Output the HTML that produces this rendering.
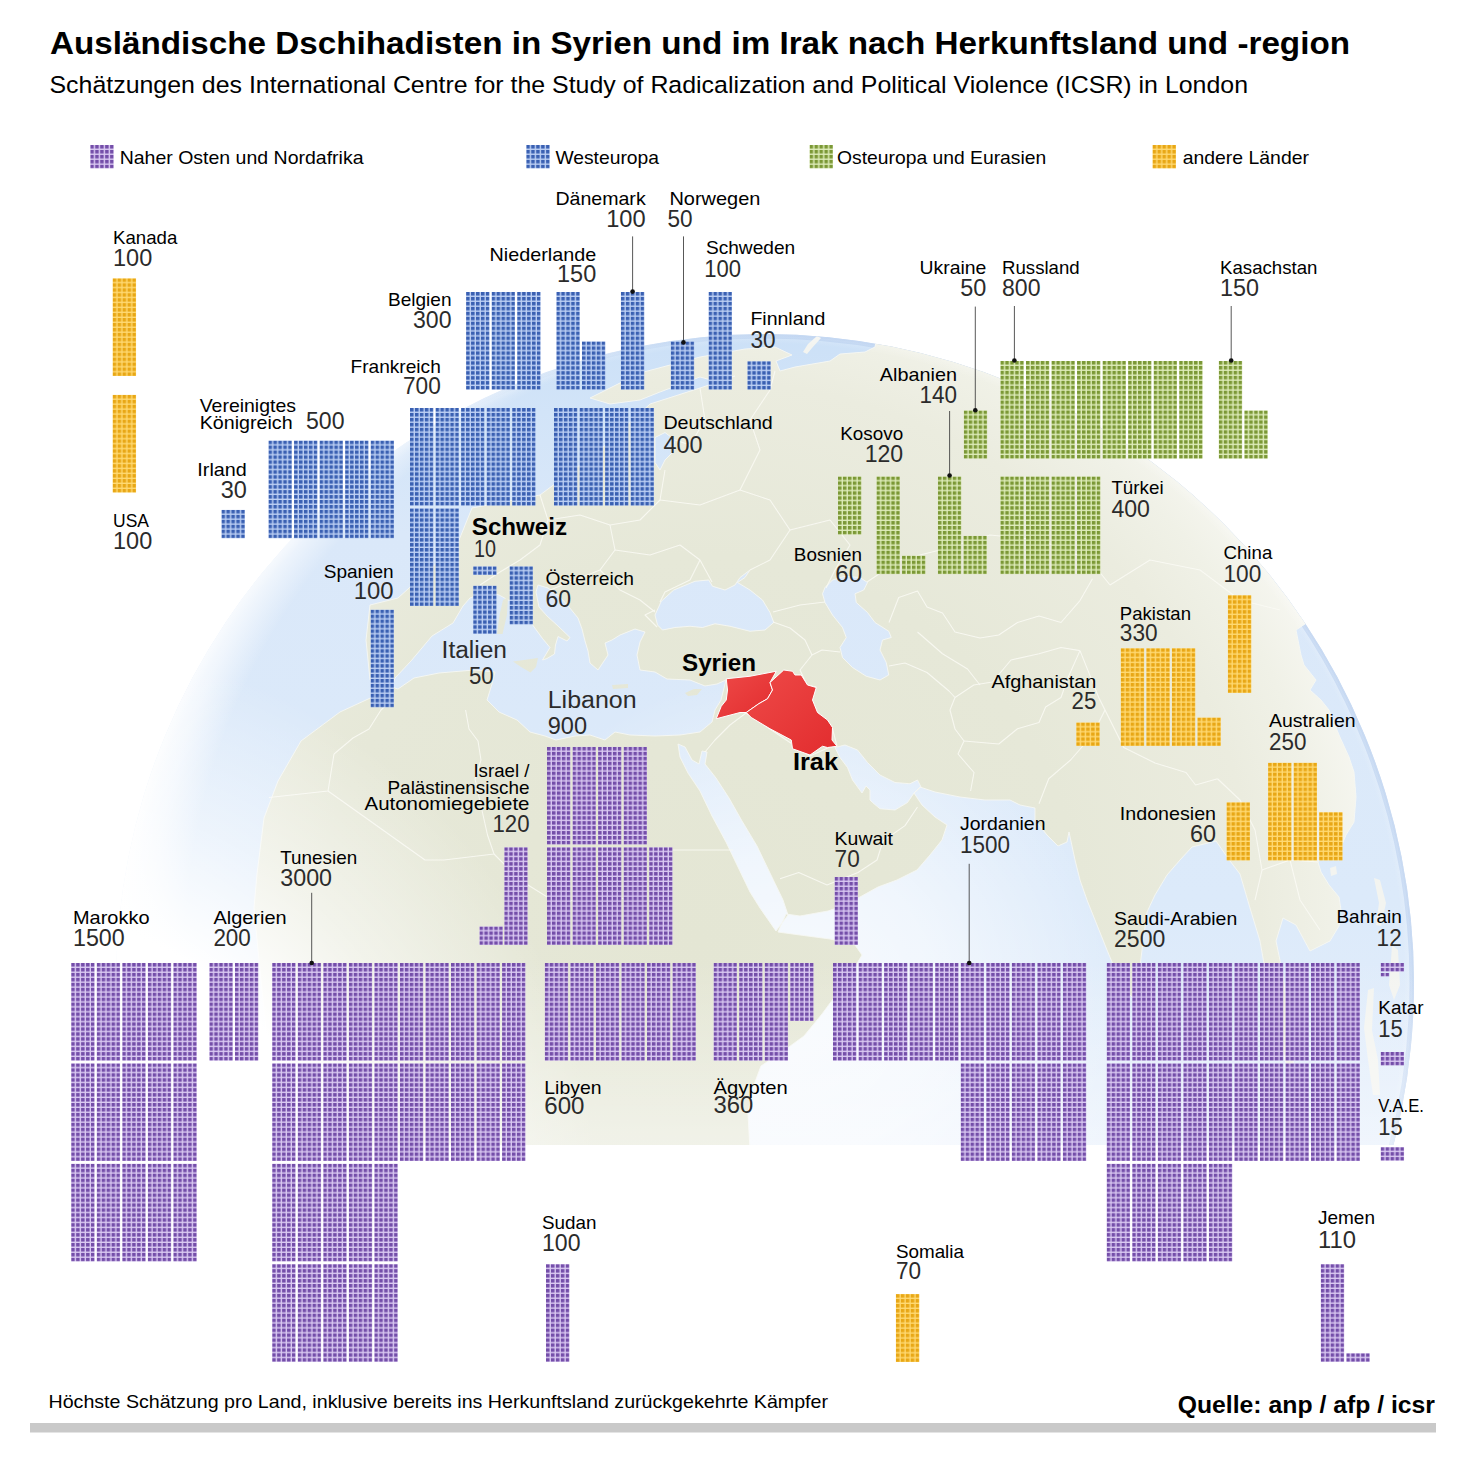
<!DOCTYPE html>
<html lang="de"><head><meta charset="utf-8"><title>Ausländische Dschihadisten in Syrien und im Irak</title>
<style>
html,body{margin:0;padding:0;background:#fff}
svg{display:block}
text{font-family:"Liberation Sans",sans-serif;fill:#000}
.n{font-size:19px}
.v{font-size:23.5px;fill:#2b2b2b}
.b{font-weight:bold}
.t{font-size:32px;fill:#000}
.s{font-size:24.5px}
.bb{font-size:24px;fill:#000}
.big{font-size:23px;fill:#2b2b2b}
.f{font-size:18.5px}
.q{font-size:23px;fill:#000}
</style></head><body>
<svg width="1472" height="1465" viewBox="0 0 1472 1465">
<defs>
<pattern id="cp" patternUnits="userSpaceOnUse" width="4.95" height="4.95"><rect width="3.55" height="3.55" fill="#744ea9"/></pattern>
<pattern id="cb" patternUnits="userSpaceOnUse" width="4.95" height="4.95"><rect width="3.55" height="3.55" fill="#3a60b2"/></pattern>
<pattern id="cg" patternUnits="userSpaceOnUse" width="4.95" height="4.95"><rect width="3.55" height="3.55" fill="#7b9836"/></pattern>
<pattern id="co" patternUnits="userSpaceOnUse" width="4.95" height="4.95"><rect width="3.55" height="3.55" fill="#e8a716"/></pattern>
<clipPath id="gclip"><circle cx="765" cy="983" r="649"/></clipPath>
<clipPath id="bclip"><rect x="0" y="0" width="1472" height="1145"/></clipPath>
<linearGradient id="seag" gradientUnits="userSpaceOnUse" x1="0" y1="330" x2="0" y2="1145"><stop offset="0" stop-color="#cbe0f7"/><stop offset="0.1" stop-color="#d2e4f8"/><stop offset="0.25" stop-color="#dae8f9"/><stop offset="0.7" stop-color="#dceafa"/><stop offset="1" stop-color="#e4eefb"/></linearGradient>
<radialGradient id="seaglow" gradientUnits="userSpaceOnUse" cx="790" cy="1010" r="340"><stop offset="0" stop-color="#fff" stop-opacity="0.8"/><stop offset="0.45" stop-color="#fff" stop-opacity="0.58"/><stop offset="1" stop-color="#fff" stop-opacity="0"/></radialGradient>
<radialGradient id="limb" gradientUnits="userSpaceOnUse" cx="765" cy="983" r="649"><stop offset="0" stop-color="#fff" stop-opacity="0"/><stop offset="0.985" stop-color="#fff" stop-opacity="0"/><stop offset="1" stop-color="#fff" stop-opacity="0.25"/></radialGradient>
<radialGradient id="limb2" gradientUnits="userSpaceOnUse" cx="815" cy="955" r="700"><stop offset="0" stop-color="#fff" stop-opacity="0"/><stop offset="0.90" stop-color="#fff" stop-opacity="0"/><stop offset="0.95" stop-color="#fff" stop-opacity="0.6"/><stop offset="1" stop-color="#fff" stop-opacity="1"/></radialGradient>
<radialGradient id="glow" gradientUnits="userSpaceOnUse" cx="40" cy="1200" r="560"><stop offset="0" stop-color="#fff" stop-opacity="1"/><stop offset="0.5" stop-color="#fff" stop-opacity="1"/><stop offset="0.72" stop-color="#fff" stop-opacity="0.5"/><stop offset="1" stop-color="#fff" stop-opacity="0"/></radialGradient>
<linearGradient id="botfade" x1="0" y1="0" x2="0" y2="1"><stop offset="0" stop-color="#fff" stop-opacity="0"/><stop offset="1" stop-color="#fff" stop-opacity="0.45"/></linearGradient>
<radialGradient id="landg" gradientUnits="userSpaceOnUse" cx="700" cy="940" r="700"><stop offset="0" stop-color="#e4e6d4"/><stop offset="0.55" stop-color="#e6e8d8"/><stop offset="0.8" stop-color="#ebecdf"/><stop offset="0.9" stop-color="#f0f1e7"/><stop offset="1" stop-color="#f8f8f3"/></radialGradient>
<linearGradient id="ringg" gradientUnits="userSpaceOnUse" x1="420" y1="0" x2="800" y2="0"><stop offset="0" stop-color="#a8c3ea" stop-opacity="0"/><stop offset="1" stop-color="#a8c3ea" stop-opacity="1"/></linearGradient>
<linearGradient id="redg" x1="0" y1="0" x2="1" y2="1"><stop offset="0" stop-color="#ee4a48"/><stop offset="1" stop-color="#e22c2e"/></linearGradient>

</defs>
<rect width="1472" height="1465" fill="#fff"/>
<g clip-path="url(#bclip)"><g clip-path="url(#gclip)">
<circle cx="765" cy="983" r="649" fill="url(#seag)"/>
<circle cx="790" cy="1010" r="340" fill="url(#seaglow)"/>
<circle cx="765" cy="983" r="649" fill="none" stroke="url(#ringg)" stroke-opacity="0.5" stroke-width="9"/>
<circle cx="765" cy="983" r="649" fill="none" stroke="url(#ringg)" stroke-opacity="0.35" stroke-width="4"/>
<path d="M290 1150 L268 1050 L258 950 L254 908 L257 874 L264 818 L278 781 L301 741 L340 712 L392 688 L370 680 L366 640 L370 605 L398 598 L440 560 L457 545 L472 508 L540 495 L600 450 L650 404 L700 388 L735 376 L715 381 L700 377 L660 392 L640 400 L610 404 L590 398 L640 373 L700 357 L745 349 L775 347 L792 355 L776 361 L780 371 L795 367 L830 361 L840 354 L865 352 L875 347 L876.5 338.6 L893.9 341.8 L911.2 345.6 L928.4 349.7 L945.5 354.4 L962.5 359.5 L979.3 365.1 L996 371.1 L1012.4 377.6 L1028.8 384.5 L1044.9 391.9 L1060.8 399.7 L1076.5 407.9 L1091.9 416.6 L1107.2 425.6 L1122.1 435.1 L1136.8 445 L1151.3 455.3 L1165.4 465.9 L1179.3 477 L1192.9 488.4 L1206.1 500.2 L1219 512.3 L1231.6 524.8 L1243.9 537.6 L1255.7 550.7 L1267.3 564.1 L1278.4 577.9 L1289.2 592 L1299.6 606.3 L1309.6 620.9 L1296 630 L1301 655 L1304 665 L1316 680 L1310 690 L1321 700 L1329 710 L1339 735 L1349 757 L1354 772 L1356 797 L1354 822 L1346 835 L1341 847 L1339 860 L1325 850 L1318 862 L1321 872 L1329 885 L1339 897 L1341 910 L1339 926 L1330 941 L1310 951 L1296 925 L1283 918 L1276 941 L1283 975 L1290 1030 L1295 1080 L1300 1100 L1285 1060 L1270 1000 L1266 975 L1260 941 L1250 908 L1240 874 L1230 861 L1216 841 L1192 847 L1180 860 L1167 875 L1155 895 L1147 912 L1142 950 L1139 975 L1135 1000 L1125 990 L1112 962 L1107 950 L1097 925 L1087 900 L1080 880 L1075 860 L1069 832 L1067 842 L1058 846 L1047 835 L1035 820 L1035 808 L1020 805 L1010 800 L985 800 L960 797 L935 792 L920 787 L914 793 L916 796 L922 805 L935 817 L947 825 L942 840 L930 855 L917 870 L897 880 L878 887 L860 897 L845 905 L828 911 L800 916 L786 914 L778 932 L800 935 L830 939 L855 945 L862 955 L852 972 L836 995 L822 1014 L804 1036 L782 1052 L761 1066 L752 1090 L748 1114 L750 1150ZM392 687 L398 689 L414 678 L439 673 L474 670 L495 672 L492 684 L487 700 L499 712 L517 720 L530 732 L545 736 L556 740 L575 736 L590 735 L605 740 L615 732 L630 735 L655 736 L680 735 L700 732 L712 722 L715 710 L721 700 L726 680 L717 684 L705 686 L690 680 L667 679 L655 672 L640 670 L637 655 L640 642 L645 632 L635 629 L620 635 L612 640 L605 643 L608 655 L598 670 L590 663 L588 651 L585 641 L582 629 L578 618 L569 607 L560 597 L548 588 L538 585 L536 592 L539 607 L547 616 L558 626 L570 637.5 L567 641 L558 636.5 L555.5 645 L554.5 654 L547 658.5 L542.5 660 L550 647.5 L542.5 638.5 L533 625.5 L524 612 L512 602 L499 595 L485 592 L470 598 L463 606 L453 623 L432 636 L411 661 L395 678ZM655 615 L661.25 601.25 L673.75 590 L695 581.25 L708.75 580 L712.5 586.25 L725 590 L735 585 L740 577.5 L750 570 L745 577.5 L737.5 582.5 L750 590 L762.5 600 L770 612.5 L773.75 622.5 L765 630 L750 631.25 L730 626.25 L715 623.75 L702.5 627.5 L690 626.25 L675 627.5 L662.5 630 L657.5 625ZM825 587.5 L832.5 580 L845 576.25 L860 577.5 L867.5 582.5 L863.75 590 L855 593.75 L856.25 602.5 L867.5 612.5 L875 622.5 L888.75 631.25 L891.25 637.5 L882.5 640 L880 650 L886.25 662.5 L888.75 675 L880 680 L866.25 676.25 L852.5 667.5 L842.5 657.5 L840 647.5 L846.25 637.5 L842.5 627.5 L832.5 615 L825 602.5 L822.5 593.75ZM678 744 L680 757 L688 773 L700 791 L712 816 L726 842 L738 867 L750 892 L760 908 L776 931 L788 915 L783 900 L769 871 L757 846 L742 821 L729 798 L716 778 L705 764 L707 752 L702 751 L699 764 L692 760 L685 747ZM835 747.5 L845 745 L857.5 750 L867.5 762.5 L880 775 L895 782.5 L910 783.75 L917.5 780 L921 787 L914 793 L907.5 802.5 L895 810 L880 808.75 L872.5 802.5 L870 800 L870 790 L866 786 L862 793 L852.5 780 L847.5 767.5 L840 757.5ZM655 437.5 L665 432.5 L675 440 L672.5 452.5 L665 460 L660 470 L655 462.5Z" fill="url(#landg)" fill-rule="evenodd" stroke="#f6f7f3" stroke-width="0.9" stroke-linejoin="round"/>
<polygon points="1374,878 1380,880 1386,903 1381,926 1376,925 1379,903" fill="#f3f4f0"/>
<polygon points="1392,945 1398,950 1400,985 1394,1000 1389,985 1391,960" fill="#f3f4f0"/>
<polygon points="1368,990 1374,988 1372,1030 1378,1060 1380,1095 1373,1095 1368,1060 1364,1028" fill="#f3f4f0"/>
<polygon points="1330,868 1336,866 1337,874 1331,876" fill="#f3f4f0"/>
<polygon points="803,352 808,344 817,336 821,338 812,348 807,354" fill="#f3f4f0"/>
<polygon points="513,661.5 538,658 536,667 530.5,672.5 521,667" fill="url(#landg)"/>
<polygon points="503,600 508,597 507,615 502.5,634 497,634 499.5,615" fill="url(#landg)"/>
<polygon points="685,693 694,689 702,689 697,695 688,696" fill="url(#landg)"/>
<polygon points="612,685 628,684 628,688 613,689" fill="url(#landg)"/>
<g fill="none" stroke="#fafaf4" stroke-width="1.1" stroke-linejoin="round" stroke-opacity="0.85"><polyline points="889,666 905,663 927,672.5 949,691 955,697.5 950,710 955,729 964,741 958,754 974,772.5 970.6,791"/><polyline points="955,697.5 973.75,685 992.5,682 1011,660 1039,653.75 1061,647.5 1080,650.6"/><polyline points="964,741 998.75,744 1017.5,728.75 1039,722.5 1045.6,707 1061,697.5 1067.5,678.75 1080,650.6"/><polyline points="1039,803.75 1048.75,778.75 1070.6,760 1092.5,735 1105,710 1098.75,697.5 1080,650.6"/><polyline points="889,622.5 898.75,597.5 917.5,591 927,607 942.5,613 955,632 980,638 998.75,635 1017.5,622.5 1039,616 1061,622.5 1080,600.6 1092.5,578.75"/><polyline points="917.5,632 942.5,653.75 967.5,669 980,685"/><polyline points="1105,710 1123.75,747.5 1155,763 1186,772.5 1195.6,785 1217.5,778.75"/><polyline points="917.5,807 905,825.6 883,841 877,860 858,872.5 827,885 798.75,872.5 780,878.75"/><polyline points="832,746 810,756 770,729 746,713 730,725 715,740 705,752"/><polyline points="837,746 832,727 817,712 812,700 816,687 807,685 800,670 812,655 822,650 840,652"/><polyline points="773,622 790,628 805,640 812,655"/><polyline points="773,612 800,605 825,602"/><polyline points="657,627 645,615 655,610"/><polyline points="334,754 353,738 369,729 381,710 387.5,704"/><polyline points="269,797.5 328,791 334,754"/><polyline points="328,791 425,860 444,860"/><polyline points="465.6,710 469,729 478,741 481,760 475,779 487.5,835 494,854 444,860"/><polyline points="494,854 520,880 560,905 600,890 640,905"/><polyline points="672,850 733,850"/><polyline points="540,495 548,520 540,545 520,560 500,572 480,585"/><polyline points="548,520 580,515 610,525 640,520 660,500 665,470"/><polyline points="610,525 615,550 600,570 575,580 550,590"/><polyline points="615,550 650,555 680,545 700,560 712,582"/><polyline points="660,500 700,505 740,490 770,500 790,530 770,560 750,570"/><polyline points="700,560 690,580 665,592 660,602"/><polyline points="600,570 620,590 640,600 655,612"/><polyline points="700,388 705,420 690,445 675,440"/><polyline points="740,490 760,450 750,420 770,390 775,371"/><polyline points="790,530 830,520 850,545 835,570 826,588"/><polyline points="867,582 900,560 940,550 990,535 1040,540 1090,560 1110,585"/><polyline points="1110,585 1150,560 1200,570 1240,600 1280,610"/><polyline points="1217.5,778.75 1240,800 1255,830 1262,870 1255,900"/><polyline points="1262,870 1290,860 1318,862"/><polyline points="1290,860 1300,900 1320,930"/></g>
<circle cx="765" cy="983" r="649" fill="url(#limb)"/>
<circle cx="765" cy="983" r="649" fill="url(#limb2)"/>
<rect x="0" y="330" width="1472" height="820" fill="url(#glow)"/>
<rect x="0" y="960" width="1472" height="185" fill="url(#botfade)"/>
</g></g>
<polygon points="726.25,678.75 750,676.25 776.25,671.25 770,682.5 772.5,690 767.5,698.75 758.75,703.75 746.25,712.5 740,712.5 716.25,718.75 721.25,706.25 726.25,700 727.5,690" fill="url(#redg)" stroke="#fff" stroke-width="1" stroke-linejoin="round"/>
<polygon points="770,682.5 783.75,670 792.5,671.25 795,675 801.25,675 807.5,685 816.25,687.5 812.5,700 817.5,712.5 827.5,720 832.5,727.5 832,740 837,746.25 827.5,747.5 822.5,746.25 810,755 792.5,748.75 791.25,740 770,728.75 751.25,717.5 746.25,712.5 758.75,703.75 767.5,698.75 772.5,690" fill="url(#redg)" stroke="#fff" stroke-width="1" stroke-linejoin="round"/>
<g>
<g transform="translate(547 746.9)"><rect width="23.35" height="97.6" fill="#dac9f2"/><rect width="23.35" height="97.6" fill="url(#cp)"/></g>
<g transform="translate(572.54 746.9)"><rect width="23.35" height="97.6" fill="#dac9f2"/><rect width="23.35" height="97.6" fill="url(#cp)"/></g>
<g transform="translate(598.08 746.9)"><rect width="23.35" height="97.6" fill="#dac9f2"/><rect width="23.35" height="97.6" fill="url(#cp)"/></g>
<g transform="translate(623.62 746.9)"><rect width="23.35" height="97.6" fill="#dac9f2"/><rect width="23.35" height="97.6" fill="url(#cp)"/></g>
<g transform="translate(547 847.3)"><rect width="23.35" height="97.6" fill="#dac9f2"/><rect width="23.35" height="97.6" fill="url(#cp)"/></g>
<g transform="translate(572.54 847.3)"><rect width="23.35" height="97.6" fill="#dac9f2"/><rect width="23.35" height="97.6" fill="url(#cp)"/></g>
<g transform="translate(598.08 847.3)"><rect width="23.35" height="97.6" fill="#dac9f2"/><rect width="23.35" height="97.6" fill="url(#cp)"/></g>
<g transform="translate(623.62 847.3)"><rect width="23.35" height="97.6" fill="#dac9f2"/><rect width="23.35" height="97.6" fill="url(#cp)"/></g>
<g transform="translate(649.16 847.3)"><rect width="23.35" height="97.6" fill="#dac9f2"/><rect width="23.35" height="97.6" fill="url(#cp)"/></g>
<g transform="translate(504.3 847.3)"><rect width="23.35" height="97.6" fill="#dac9f2"/><rect width="23.35" height="97.6" fill="url(#cp)"/></g>
<g transform="translate(479.46 926.5)"><rect width="23.35" height="18.4" fill="#dac9f2"/><rect width="23.35" height="18.4" fill="url(#cp)"/></g>
<g transform="translate(834.6 877)"><rect width="23.35" height="67.9" fill="#dac9f2"/><rect width="23.35" height="67.9" fill="url(#cp)"/></g>
<g transform="translate(71.2 963)"><rect width="23.35" height="97.6" fill="#dac9f2"/><rect width="23.35" height="97.6" fill="url(#cp)"/></g>
<g transform="translate(96.74 963)"><rect width="23.35" height="97.6" fill="#dac9f2"/><rect width="23.35" height="97.6" fill="url(#cp)"/></g>
<g transform="translate(122.28 963)"><rect width="23.35" height="97.6" fill="#dac9f2"/><rect width="23.35" height="97.6" fill="url(#cp)"/></g>
<g transform="translate(147.82 963)"><rect width="23.35" height="97.6" fill="#dac9f2"/><rect width="23.35" height="97.6" fill="url(#cp)"/></g>
<g transform="translate(173.36 963)"><rect width="23.35" height="97.6" fill="#dac9f2"/><rect width="23.35" height="97.6" fill="url(#cp)"/></g>
<g transform="translate(71.2 1063.4)"><rect width="23.35" height="97.6" fill="#dac9f2"/><rect width="23.35" height="97.6" fill="url(#cp)"/></g>
<g transform="translate(96.74 1063.4)"><rect width="23.35" height="97.6" fill="#dac9f2"/><rect width="23.35" height="97.6" fill="url(#cp)"/></g>
<g transform="translate(122.28 1063.4)"><rect width="23.35" height="97.6" fill="#dac9f2"/><rect width="23.35" height="97.6" fill="url(#cp)"/></g>
<g transform="translate(147.82 1063.4)"><rect width="23.35" height="97.6" fill="#dac9f2"/><rect width="23.35" height="97.6" fill="url(#cp)"/></g>
<g transform="translate(173.36 1063.4)"><rect width="23.35" height="97.6" fill="#dac9f2"/><rect width="23.35" height="97.6" fill="url(#cp)"/></g>
<g transform="translate(71.2 1163.8)"><rect width="23.35" height="97.6" fill="#dac9f2"/><rect width="23.35" height="97.6" fill="url(#cp)"/></g>
<g transform="translate(96.74 1163.8)"><rect width="23.35" height="97.6" fill="#dac9f2"/><rect width="23.35" height="97.6" fill="url(#cp)"/></g>
<g transform="translate(122.28 1163.8)"><rect width="23.35" height="97.6" fill="#dac9f2"/><rect width="23.35" height="97.6" fill="url(#cp)"/></g>
<g transform="translate(147.82 1163.8)"><rect width="23.35" height="97.6" fill="#dac9f2"/><rect width="23.35" height="97.6" fill="url(#cp)"/></g>
<g transform="translate(173.36 1163.8)"><rect width="23.35" height="97.6" fill="#dac9f2"/><rect width="23.35" height="97.6" fill="url(#cp)"/></g>
<g transform="translate(209.4 963)"><rect width="23.35" height="97.6" fill="#dac9f2"/><rect width="23.35" height="97.6" fill="url(#cp)"/></g>
<g transform="translate(234.94 963)"><rect width="23.35" height="97.6" fill="#dac9f2"/><rect width="23.35" height="97.6" fill="url(#cp)"/></g>
<g transform="translate(272.2 963)"><rect width="23.35" height="97.6" fill="#dac9f2"/><rect width="23.35" height="97.6" fill="url(#cp)"/></g>
<g transform="translate(297.74 963)"><rect width="23.35" height="97.6" fill="#dac9f2"/><rect width="23.35" height="97.6" fill="url(#cp)"/></g>
<g transform="translate(323.28 963)"><rect width="23.35" height="97.6" fill="#dac9f2"/><rect width="23.35" height="97.6" fill="url(#cp)"/></g>
<g transform="translate(348.82 963)"><rect width="23.35" height="97.6" fill="#dac9f2"/><rect width="23.35" height="97.6" fill="url(#cp)"/></g>
<g transform="translate(374.36 963)"><rect width="23.35" height="97.6" fill="#dac9f2"/><rect width="23.35" height="97.6" fill="url(#cp)"/></g>
<g transform="translate(399.9 963)"><rect width="23.35" height="97.6" fill="#dac9f2"/><rect width="23.35" height="97.6" fill="url(#cp)"/></g>
<g transform="translate(425.44 963)"><rect width="23.35" height="97.6" fill="#dac9f2"/><rect width="23.35" height="97.6" fill="url(#cp)"/></g>
<g transform="translate(450.98 963)"><rect width="23.35" height="97.6" fill="#dac9f2"/><rect width="23.35" height="97.6" fill="url(#cp)"/></g>
<g transform="translate(476.52 963)"><rect width="23.35" height="97.6" fill="#dac9f2"/><rect width="23.35" height="97.6" fill="url(#cp)"/></g>
<g transform="translate(502.06 963)"><rect width="23.35" height="97.6" fill="#dac9f2"/><rect width="23.35" height="97.6" fill="url(#cp)"/></g>
<g transform="translate(272.2 1063.4)"><rect width="23.35" height="97.6" fill="#dac9f2"/><rect width="23.35" height="97.6" fill="url(#cp)"/></g>
<g transform="translate(297.74 1063.4)"><rect width="23.35" height="97.6" fill="#dac9f2"/><rect width="23.35" height="97.6" fill="url(#cp)"/></g>
<g transform="translate(323.28 1063.4)"><rect width="23.35" height="97.6" fill="#dac9f2"/><rect width="23.35" height="97.6" fill="url(#cp)"/></g>
<g transform="translate(348.82 1063.4)"><rect width="23.35" height="97.6" fill="#dac9f2"/><rect width="23.35" height="97.6" fill="url(#cp)"/></g>
<g transform="translate(374.36 1063.4)"><rect width="23.35" height="97.6" fill="#dac9f2"/><rect width="23.35" height="97.6" fill="url(#cp)"/></g>
<g transform="translate(399.9 1063.4)"><rect width="23.35" height="97.6" fill="#dac9f2"/><rect width="23.35" height="97.6" fill="url(#cp)"/></g>
<g transform="translate(425.44 1063.4)"><rect width="23.35" height="97.6" fill="#dac9f2"/><rect width="23.35" height="97.6" fill="url(#cp)"/></g>
<g transform="translate(450.98 1063.4)"><rect width="23.35" height="97.6" fill="#dac9f2"/><rect width="23.35" height="97.6" fill="url(#cp)"/></g>
<g transform="translate(476.52 1063.4)"><rect width="23.35" height="97.6" fill="#dac9f2"/><rect width="23.35" height="97.6" fill="url(#cp)"/></g>
<g transform="translate(502.06 1063.4)"><rect width="23.35" height="97.6" fill="#dac9f2"/><rect width="23.35" height="97.6" fill="url(#cp)"/></g>
<g transform="translate(272.2 1163.8)"><rect width="23.35" height="97.6" fill="#dac9f2"/><rect width="23.35" height="97.6" fill="url(#cp)"/></g>
<g transform="translate(297.74 1163.8)"><rect width="23.35" height="97.6" fill="#dac9f2"/><rect width="23.35" height="97.6" fill="url(#cp)"/></g>
<g transform="translate(323.28 1163.8)"><rect width="23.35" height="97.6" fill="#dac9f2"/><rect width="23.35" height="97.6" fill="url(#cp)"/></g>
<g transform="translate(348.82 1163.8)"><rect width="23.35" height="97.6" fill="#dac9f2"/><rect width="23.35" height="97.6" fill="url(#cp)"/></g>
<g transform="translate(374.36 1163.8)"><rect width="23.35" height="97.6" fill="#dac9f2"/><rect width="23.35" height="97.6" fill="url(#cp)"/></g>
<g transform="translate(272.2 1264.2)"><rect width="23.35" height="97.6" fill="#dac9f2"/><rect width="23.35" height="97.6" fill="url(#cp)"/></g>
<g transform="translate(297.74 1264.2)"><rect width="23.35" height="97.6" fill="#dac9f2"/><rect width="23.35" height="97.6" fill="url(#cp)"/></g>
<g transform="translate(323.28 1264.2)"><rect width="23.35" height="97.6" fill="#dac9f2"/><rect width="23.35" height="97.6" fill="url(#cp)"/></g>
<g transform="translate(348.82 1264.2)"><rect width="23.35" height="97.6" fill="#dac9f2"/><rect width="23.35" height="97.6" fill="url(#cp)"/></g>
<g transform="translate(374.36 1264.2)"><rect width="23.35" height="97.6" fill="#dac9f2"/><rect width="23.35" height="97.6" fill="url(#cp)"/></g>
<g transform="translate(544.8 963)"><rect width="23.35" height="97.6" fill="#dac9f2"/><rect width="23.35" height="97.6" fill="url(#cp)"/></g>
<g transform="translate(570.34 963)"><rect width="23.35" height="97.6" fill="#dac9f2"/><rect width="23.35" height="97.6" fill="url(#cp)"/></g>
<g transform="translate(595.88 963)"><rect width="23.35" height="97.6" fill="#dac9f2"/><rect width="23.35" height="97.6" fill="url(#cp)"/></g>
<g transform="translate(621.42 963)"><rect width="23.35" height="97.6" fill="#dac9f2"/><rect width="23.35" height="97.6" fill="url(#cp)"/></g>
<g transform="translate(646.96 963)"><rect width="23.35" height="97.6" fill="#dac9f2"/><rect width="23.35" height="97.6" fill="url(#cp)"/></g>
<g transform="translate(672.5 963)"><rect width="23.35" height="97.6" fill="#dac9f2"/><rect width="23.35" height="97.6" fill="url(#cp)"/></g>
<g transform="translate(713.6 963)"><rect width="23.35" height="97.6" fill="#dac9f2"/><rect width="23.35" height="97.6" fill="url(#cp)"/></g>
<g transform="translate(739.14 963)"><rect width="23.35" height="97.6" fill="#dac9f2"/><rect width="23.35" height="97.6" fill="url(#cp)"/></g>
<g transform="translate(764.68 963)"><rect width="23.35" height="97.6" fill="#dac9f2"/><rect width="23.35" height="97.6" fill="url(#cp)"/></g>
<g transform="translate(790.22 963)"><rect width="23.35" height="58" fill="#dac9f2"/><rect width="23.35" height="58" fill="url(#cp)"/></g>
<g transform="translate(833 963)"><rect width="23.35" height="97.6" fill="#dac9f2"/><rect width="23.35" height="97.6" fill="url(#cp)"/></g>
<g transform="translate(858.54 963)"><rect width="23.35" height="97.6" fill="#dac9f2"/><rect width="23.35" height="97.6" fill="url(#cp)"/></g>
<g transform="translate(884.08 963)"><rect width="23.35" height="97.6" fill="#dac9f2"/><rect width="23.35" height="97.6" fill="url(#cp)"/></g>
<g transform="translate(909.62 963)"><rect width="23.35" height="97.6" fill="#dac9f2"/><rect width="23.35" height="97.6" fill="url(#cp)"/></g>
<g transform="translate(935.16 963)"><rect width="23.35" height="97.6" fill="#dac9f2"/><rect width="23.35" height="97.6" fill="url(#cp)"/></g>
<g transform="translate(960.7 963)"><rect width="23.35" height="97.6" fill="#dac9f2"/><rect width="23.35" height="97.6" fill="url(#cp)"/></g>
<g transform="translate(986.24 963)"><rect width="23.35" height="97.6" fill="#dac9f2"/><rect width="23.35" height="97.6" fill="url(#cp)"/></g>
<g transform="translate(1011.78 963)"><rect width="23.35" height="97.6" fill="#dac9f2"/><rect width="23.35" height="97.6" fill="url(#cp)"/></g>
<g transform="translate(1037.32 963)"><rect width="23.35" height="97.6" fill="#dac9f2"/><rect width="23.35" height="97.6" fill="url(#cp)"/></g>
<g transform="translate(1062.86 963)"><rect width="23.35" height="97.6" fill="#dac9f2"/><rect width="23.35" height="97.6" fill="url(#cp)"/></g>
<g transform="translate(960.7 1063.4)"><rect width="23.35" height="97.6" fill="#dac9f2"/><rect width="23.35" height="97.6" fill="url(#cp)"/></g>
<g transform="translate(986.24 1063.4)"><rect width="23.35" height="97.6" fill="#dac9f2"/><rect width="23.35" height="97.6" fill="url(#cp)"/></g>
<g transform="translate(1011.78 1063.4)"><rect width="23.35" height="97.6" fill="#dac9f2"/><rect width="23.35" height="97.6" fill="url(#cp)"/></g>
<g transform="translate(1037.32 1063.4)"><rect width="23.35" height="97.6" fill="#dac9f2"/><rect width="23.35" height="97.6" fill="url(#cp)"/></g>
<g transform="translate(1062.86 1063.4)"><rect width="23.35" height="97.6" fill="#dac9f2"/><rect width="23.35" height="97.6" fill="url(#cp)"/></g>
<g transform="translate(1106.7 963)"><rect width="23.35" height="97.6" fill="#dac9f2"/><rect width="23.35" height="97.6" fill="url(#cp)"/></g>
<g transform="translate(1132.24 963)"><rect width="23.35" height="97.6" fill="#dac9f2"/><rect width="23.35" height="97.6" fill="url(#cp)"/></g>
<g transform="translate(1157.78 963)"><rect width="23.35" height="97.6" fill="#dac9f2"/><rect width="23.35" height="97.6" fill="url(#cp)"/></g>
<g transform="translate(1183.32 963)"><rect width="23.35" height="97.6" fill="#dac9f2"/><rect width="23.35" height="97.6" fill="url(#cp)"/></g>
<g transform="translate(1208.86 963)"><rect width="23.35" height="97.6" fill="#dac9f2"/><rect width="23.35" height="97.6" fill="url(#cp)"/></g>
<g transform="translate(1234.4 963)"><rect width="23.35" height="97.6" fill="#dac9f2"/><rect width="23.35" height="97.6" fill="url(#cp)"/></g>
<g transform="translate(1259.94 963)"><rect width="23.35" height="97.6" fill="#dac9f2"/><rect width="23.35" height="97.6" fill="url(#cp)"/></g>
<g transform="translate(1285.48 963)"><rect width="23.35" height="97.6" fill="#dac9f2"/><rect width="23.35" height="97.6" fill="url(#cp)"/></g>
<g transform="translate(1311.02 963)"><rect width="23.35" height="97.6" fill="#dac9f2"/><rect width="23.35" height="97.6" fill="url(#cp)"/></g>
<g transform="translate(1336.56 963)"><rect width="23.35" height="97.6" fill="#dac9f2"/><rect width="23.35" height="97.6" fill="url(#cp)"/></g>
<g transform="translate(1106.7 1063.4)"><rect width="23.35" height="97.6" fill="#dac9f2"/><rect width="23.35" height="97.6" fill="url(#cp)"/></g>
<g transform="translate(1132.24 1063.4)"><rect width="23.35" height="97.6" fill="#dac9f2"/><rect width="23.35" height="97.6" fill="url(#cp)"/></g>
<g transform="translate(1157.78 1063.4)"><rect width="23.35" height="97.6" fill="#dac9f2"/><rect width="23.35" height="97.6" fill="url(#cp)"/></g>
<g transform="translate(1183.32 1063.4)"><rect width="23.35" height="97.6" fill="#dac9f2"/><rect width="23.35" height="97.6" fill="url(#cp)"/></g>
<g transform="translate(1208.86 1063.4)"><rect width="23.35" height="97.6" fill="#dac9f2"/><rect width="23.35" height="97.6" fill="url(#cp)"/></g>
<g transform="translate(1234.4 1063.4)"><rect width="23.35" height="97.6" fill="#dac9f2"/><rect width="23.35" height="97.6" fill="url(#cp)"/></g>
<g transform="translate(1259.94 1063.4)"><rect width="23.35" height="97.6" fill="#dac9f2"/><rect width="23.35" height="97.6" fill="url(#cp)"/></g>
<g transform="translate(1285.48 1063.4)"><rect width="23.35" height="97.6" fill="#dac9f2"/><rect width="23.35" height="97.6" fill="url(#cp)"/></g>
<g transform="translate(1311.02 1063.4)"><rect width="23.35" height="97.6" fill="#dac9f2"/><rect width="23.35" height="97.6" fill="url(#cp)"/></g>
<g transform="translate(1336.56 1063.4)"><rect width="23.35" height="97.6" fill="#dac9f2"/><rect width="23.35" height="97.6" fill="url(#cp)"/></g>
<g transform="translate(1106.7 1163.8)"><rect width="23.35" height="97.6" fill="#dac9f2"/><rect width="23.35" height="97.6" fill="url(#cp)"/></g>
<g transform="translate(1132.24 1163.8)"><rect width="23.35" height="97.6" fill="#dac9f2"/><rect width="23.35" height="97.6" fill="url(#cp)"/></g>
<g transform="translate(1157.78 1163.8)"><rect width="23.35" height="97.6" fill="#dac9f2"/><rect width="23.35" height="97.6" fill="url(#cp)"/></g>
<g transform="translate(1183.32 1163.8)"><rect width="23.35" height="97.6" fill="#dac9f2"/><rect width="23.35" height="97.6" fill="url(#cp)"/></g>
<g transform="translate(1208.86 1163.8)"><rect width="23.35" height="97.6" fill="#dac9f2"/><rect width="23.35" height="97.6" fill="url(#cp)"/></g>
<g transform="translate(1380.7 963)"><rect width="23.35" height="8.5" fill="#dac9f2"/><rect width="23.35" height="8.5" fill="url(#cp)"/></g>
<g transform="translate(1380.7 972.9)"><rect width="8.5" height="3.55" fill="#dac9f2"/><rect width="8.5" height="3.55" fill="url(#cp)"/></g>
<g transform="translate(1380.7 1052)"><rect width="23.35" height="13.45" fill="#dac9f2"/><rect width="23.35" height="13.45" fill="url(#cp)"/></g>
<g transform="translate(1380.7 1147.2)"><rect width="23.35" height="13.45" fill="#dac9f2"/><rect width="23.35" height="13.45" fill="url(#cp)"/></g>
<g transform="translate(546 1264.2)"><rect width="23.35" height="97.6" fill="#dac9f2"/><rect width="23.35" height="97.6" fill="url(#cp)"/></g>
<g transform="translate(1320.8 1264.2)"><rect width="23.35" height="97.6" fill="#dac9f2"/><rect width="23.35" height="97.6" fill="url(#cp)"/></g>
<g transform="translate(1346.34 1353.3)"><rect width="23.35" height="8.5" fill="#dac9f2"/><rect width="23.35" height="8.5" fill="url(#cp)"/></g>
<g transform="translate(90.3 145)"><rect width="23.35" height="23.35" fill="#dac9f2"/><rect width="23.35" height="23.35" fill="url(#cp)"/></g>
</g>
<g>
<g transform="translate(466.1 292)"><rect width="23.35" height="97.6" fill="#bdd0f4"/><rect width="23.35" height="97.6" fill="url(#cb)"/></g>
<g transform="translate(491.64 292)"><rect width="23.35" height="97.6" fill="#bdd0f4"/><rect width="23.35" height="97.6" fill="url(#cb)"/></g>
<g transform="translate(517.18 292)"><rect width="23.35" height="97.6" fill="#bdd0f4"/><rect width="23.35" height="97.6" fill="url(#cb)"/></g>
<g transform="translate(556.4 292)"><rect width="23.35" height="97.6" fill="#bdd0f4"/><rect width="23.35" height="97.6" fill="url(#cb)"/></g>
<g transform="translate(581.94 341.5)"><rect width="23.35" height="48.1" fill="#bdd0f4"/><rect width="23.35" height="48.1" fill="url(#cb)"/></g>
<g transform="translate(620.9 292)"><rect width="23.35" height="97.6" fill="#bdd0f4"/><rect width="23.35" height="97.6" fill="url(#cb)"/></g>
<g transform="translate(670.8 341.5)"><rect width="23.35" height="48.1" fill="#bdd0f4"/><rect width="23.35" height="48.1" fill="url(#cb)"/></g>
<g transform="translate(708.6 292)"><rect width="23.35" height="97.6" fill="#bdd0f4"/><rect width="23.35" height="97.6" fill="url(#cb)"/></g>
<g transform="translate(747.4 361.3)"><rect width="23.35" height="28.3" fill="#bdd0f4"/><rect width="23.35" height="28.3" fill="url(#cb)"/></g>
<g transform="translate(410 408)"><rect width="23.35" height="97.6" fill="#bdd0f4"/><rect width="23.35" height="97.6" fill="url(#cb)"/></g>
<g transform="translate(435.54 408)"><rect width="23.35" height="97.6" fill="#bdd0f4"/><rect width="23.35" height="97.6" fill="url(#cb)"/></g>
<g transform="translate(461.08 408)"><rect width="23.35" height="97.6" fill="#bdd0f4"/><rect width="23.35" height="97.6" fill="url(#cb)"/></g>
<g transform="translate(486.62 408)"><rect width="23.35" height="97.6" fill="#bdd0f4"/><rect width="23.35" height="97.6" fill="url(#cb)"/></g>
<g transform="translate(512.16 408)"><rect width="23.35" height="97.6" fill="#bdd0f4"/><rect width="23.35" height="97.6" fill="url(#cb)"/></g>
<g transform="translate(410 508.4)"><rect width="23.35" height="97.6" fill="#bdd0f4"/><rect width="23.35" height="97.6" fill="url(#cb)"/></g>
<g transform="translate(435.54 508.4)"><rect width="23.35" height="97.6" fill="#bdd0f4"/><rect width="23.35" height="97.6" fill="url(#cb)"/></g>
<g transform="translate(554 408)"><rect width="23.35" height="97.6" fill="#bdd0f4"/><rect width="23.35" height="97.6" fill="url(#cb)"/></g>
<g transform="translate(579.54 408)"><rect width="23.35" height="97.6" fill="#bdd0f4"/><rect width="23.35" height="97.6" fill="url(#cb)"/></g>
<g transform="translate(605.08 408)"><rect width="23.35" height="97.6" fill="#bdd0f4"/><rect width="23.35" height="97.6" fill="url(#cb)"/></g>
<g transform="translate(630.62 408)"><rect width="23.35" height="97.6" fill="#bdd0f4"/><rect width="23.35" height="97.6" fill="url(#cb)"/></g>
<g transform="translate(268.5 440.6)"><rect width="23.35" height="97.6" fill="#bdd0f4"/><rect width="23.35" height="97.6" fill="url(#cb)"/></g>
<g transform="translate(294.04 440.6)"><rect width="23.35" height="97.6" fill="#bdd0f4"/><rect width="23.35" height="97.6" fill="url(#cb)"/></g>
<g transform="translate(319.58 440.6)"><rect width="23.35" height="97.6" fill="#bdd0f4"/><rect width="23.35" height="97.6" fill="url(#cb)"/></g>
<g transform="translate(345.12 440.6)"><rect width="23.35" height="97.6" fill="#bdd0f4"/><rect width="23.35" height="97.6" fill="url(#cb)"/></g>
<g transform="translate(370.66 440.6)"><rect width="23.35" height="97.6" fill="#bdd0f4"/><rect width="23.35" height="97.6" fill="url(#cb)"/></g>
<g transform="translate(221.5 509.9)"><rect width="23.35" height="28.3" fill="#bdd0f4"/><rect width="23.35" height="28.3" fill="url(#cb)"/></g>
<g transform="translate(370.6 609.7)"><rect width="23.35" height="97.6" fill="#bdd0f4"/><rect width="23.35" height="97.6" fill="url(#cb)"/></g>
<g transform="translate(473.2 566.4)"><rect width="23.35" height="8.5" fill="#bdd0f4"/><rect width="23.35" height="8.5" fill="url(#cb)"/></g>
<g transform="translate(473.2 585.7)"><rect width="23.35" height="48.1" fill="#bdd0f4"/><rect width="23.35" height="48.1" fill="url(#cb)"/></g>
<g transform="translate(509.6 566.4)"><rect width="23.35" height="58" fill="#bdd0f4"/><rect width="23.35" height="58" fill="url(#cb)"/></g>
<g transform="translate(526.3 145)"><rect width="23.35" height="23.35" fill="#bdd0f4"/><rect width="23.35" height="23.35" fill="url(#cb)"/></g>
</g>
<g>
<g transform="translate(963.8 410.5)"><rect width="23.35" height="48.1" fill="#deecba"/><rect width="23.35" height="48.1" fill="url(#cg)"/></g>
<g transform="translate(1000.4 361)"><rect width="23.35" height="97.6" fill="#deecba"/><rect width="23.35" height="97.6" fill="url(#cg)"/></g>
<g transform="translate(1025.94 361)"><rect width="23.35" height="97.6" fill="#deecba"/><rect width="23.35" height="97.6" fill="url(#cg)"/></g>
<g transform="translate(1051.48 361)"><rect width="23.35" height="97.6" fill="#deecba"/><rect width="23.35" height="97.6" fill="url(#cg)"/></g>
<g transform="translate(1077.02 361)"><rect width="23.35" height="97.6" fill="#deecba"/><rect width="23.35" height="97.6" fill="url(#cg)"/></g>
<g transform="translate(1102.56 361)"><rect width="23.35" height="97.6" fill="#deecba"/><rect width="23.35" height="97.6" fill="url(#cg)"/></g>
<g transform="translate(1128.1 361)"><rect width="23.35" height="97.6" fill="#deecba"/><rect width="23.35" height="97.6" fill="url(#cg)"/></g>
<g transform="translate(1153.64 361)"><rect width="23.35" height="97.6" fill="#deecba"/><rect width="23.35" height="97.6" fill="url(#cg)"/></g>
<g transform="translate(1179.18 361)"><rect width="23.35" height="97.6" fill="#deecba"/><rect width="23.35" height="97.6" fill="url(#cg)"/></g>
<g transform="translate(1218.8 361)"><rect width="23.35" height="97.6" fill="#deecba"/><rect width="23.35" height="97.6" fill="url(#cg)"/></g>
<g transform="translate(1244.34 410.5)"><rect width="23.35" height="48.1" fill="#deecba"/><rect width="23.35" height="48.1" fill="url(#cg)"/></g>
<g transform="translate(838 476.5)"><rect width="23.35" height="58" fill="#deecba"/><rect width="23.35" height="58" fill="url(#cg)"/></g>
<g transform="translate(876.5 476.5)"><rect width="23.35" height="97.6" fill="#deecba"/><rect width="23.35" height="97.6" fill="url(#cg)"/></g>
<g transform="translate(902.04 555.7)"><rect width="23.35" height="18.4" fill="#deecba"/><rect width="23.35" height="18.4" fill="url(#cg)"/></g>
<g transform="translate(937.9 476.5)"><rect width="23.35" height="97.6" fill="#deecba"/><rect width="23.35" height="97.6" fill="url(#cg)"/></g>
<g transform="translate(963.44 535.9)"><rect width="23.35" height="38.2" fill="#deecba"/><rect width="23.35" height="38.2" fill="url(#cg)"/></g>
<g transform="translate(1000.4 476.5)"><rect width="23.35" height="97.6" fill="#deecba"/><rect width="23.35" height="97.6" fill="url(#cg)"/></g>
<g transform="translate(1025.94 476.5)"><rect width="23.35" height="97.6" fill="#deecba"/><rect width="23.35" height="97.6" fill="url(#cg)"/></g>
<g transform="translate(1051.48 476.5)"><rect width="23.35" height="97.6" fill="#deecba"/><rect width="23.35" height="97.6" fill="url(#cg)"/></g>
<g transform="translate(1077.02 476.5)"><rect width="23.35" height="97.6" fill="#deecba"/><rect width="23.35" height="97.6" fill="url(#cg)"/></g>
<g transform="translate(809.6 145)"><rect width="23.35" height="23.35" fill="#deecba"/><rect width="23.35" height="23.35" fill="url(#cg)"/></g>
</g>
<g>
<g transform="translate(112.7 278.4)"><rect width="23.35" height="97.6" fill="#ffd972"/><rect width="23.35" height="97.6" fill="url(#co)"/></g>
<g transform="translate(112.7 394.9)"><rect width="23.35" height="97.6" fill="#ffd972"/><rect width="23.35" height="97.6" fill="url(#co)"/></g>
<g transform="translate(1227.9 595.3)"><rect width="23.35" height="97.6" fill="#ffd972"/><rect width="23.35" height="97.6" fill="url(#co)"/></g>
<g transform="translate(1120.8 648.3)"><rect width="23.35" height="97.6" fill="#ffd972"/><rect width="23.35" height="97.6" fill="url(#co)"/></g>
<g transform="translate(1146.34 648.3)"><rect width="23.35" height="97.6" fill="#ffd972"/><rect width="23.35" height="97.6" fill="url(#co)"/></g>
<g transform="translate(1171.88 648.3)"><rect width="23.35" height="97.6" fill="#ffd972"/><rect width="23.35" height="97.6" fill="url(#co)"/></g>
<g transform="translate(1197.42 717.6)"><rect width="23.35" height="28.3" fill="#ffd972"/><rect width="23.35" height="28.3" fill="url(#co)"/></g>
<g transform="translate(1076.3 722.55)"><rect width="23.35" height="23.35" fill="#ffd972"/><rect width="23.35" height="23.35" fill="url(#co)"/></g>
<g transform="translate(1268.1 762.8)"><rect width="23.35" height="97.6" fill="#ffd972"/><rect width="23.35" height="97.6" fill="url(#co)"/></g>
<g transform="translate(1293.64 762.8)"><rect width="23.35" height="97.6" fill="#ffd972"/><rect width="23.35" height="97.6" fill="url(#co)"/></g>
<g transform="translate(1319.18 812.3)"><rect width="23.35" height="48.1" fill="#ffd972"/><rect width="23.35" height="48.1" fill="url(#co)"/></g>
<g transform="translate(1226.6 802.4)"><rect width="23.35" height="58" fill="#ffd972"/><rect width="23.35" height="58" fill="url(#co)"/></g>
<g transform="translate(895.9 1294.1)"><rect width="23.35" height="67.9" fill="#ffd972"/><rect width="23.35" height="67.9" fill="url(#co)"/></g>
<g transform="translate(1152.6 145)"><rect width="23.35" height="23.35" fill="#ffd972"/><rect width="23.35" height="23.35" fill="url(#co)"/></g>
</g>
<text class="t b" x="50.0" y="54.0" text-anchor="start" textLength="1300.0" lengthAdjust="spacingAndGlyphs">Ausländische Dschihadisten in Syrien und im Irak nach Herkunftsland und -region</text>
<text class="s" x="49.5" y="92.5" text-anchor="start" textLength="1198.5" lengthAdjust="spacingAndGlyphs">Schätzungen des International Centre for the Study of Radicalization and Political Violence (ICSR) in London</text>
<text class="n" x="119.7" y="163.5" text-anchor="start" textLength="243.8" lengthAdjust="spacingAndGlyphs">Naher Osten und Nordafrika</text>
<text class="n" x="555.4" y="163.5" text-anchor="start" textLength="103.6" lengthAdjust="spacingAndGlyphs">Westeuropa</text>
<text class="n" x="837.0" y="163.5" text-anchor="start" textLength="209.2" lengthAdjust="spacingAndGlyphs">Osteuropa und Eurasien</text>
<text class="n" x="1182.7" y="163.5" text-anchor="start" textLength="126.3" lengthAdjust="spacingAndGlyphs">andere Länder</text>
<text class="n" x="113.0" y="244.4" text-anchor="start" textLength="64.3" lengthAdjust="spacingAndGlyphs">Kanada</text>
<text class="v" x="113.0" y="266.4" text-anchor="start" textLength="39.2" lengthAdjust="spacingAndGlyphs">100</text>
<text class="n" x="113.0" y="527.4" text-anchor="start" textLength="36.0" lengthAdjust="spacingAndGlyphs">USA</text>
<text class="v" x="113.0" y="549.0" text-anchor="start" textLength="39.2" lengthAdjust="spacingAndGlyphs">100</text>
<text class="n" x="451.5" y="305.6" text-anchor="end" textLength="63.5" lengthAdjust="spacingAndGlyphs">Belgien</text>
<text class="v" x="451.5" y="328.0" text-anchor="end" textLength="38.5" lengthAdjust="spacingAndGlyphs">300</text>
<text class="n" x="440.8" y="372.5" text-anchor="end" textLength="90.3" lengthAdjust="spacingAndGlyphs">Frankreich</text>
<text class="v" x="440.8" y="393.8" text-anchor="end" textLength="37.8" lengthAdjust="spacingAndGlyphs">700</text>
<text class="n" x="199.7" y="411.6" text-anchor="start" textLength="96.3" lengthAdjust="spacingAndGlyphs">Vereinigtes</text>
<text class="n" x="199.7" y="428.6" text-anchor="start" textLength="92.9" lengthAdjust="spacingAndGlyphs">Königreich</text>
<text class="v" x="306.0" y="428.6" text-anchor="start" textLength="38.5" lengthAdjust="spacingAndGlyphs">500</text>
<text class="n" x="246.8" y="475.5" text-anchor="end" textLength="49.5" lengthAdjust="spacingAndGlyphs">Irland</text>
<text class="v" x="246.8" y="498.0" text-anchor="end" textLength="26.1" lengthAdjust="spacingAndGlyphs">30</text>
<text class="n" x="393.6" y="577.5" text-anchor="end" textLength="69.9" lengthAdjust="spacingAndGlyphs">Spanien</text>
<text class="v" x="393.6" y="599.2" text-anchor="end" textLength="39.8" lengthAdjust="spacingAndGlyphs">100</text>
<text class="n" x="555.4" y="204.6" text-anchor="start" textLength="90.3" lengthAdjust="spacingAndGlyphs">Dänemark</text>
<text class="v" x="645.7" y="227.0" text-anchor="end" textLength="39.5" lengthAdjust="spacingAndGlyphs">100</text>
<text class="n" x="669.4" y="204.6" text-anchor="start" textLength="91.0" lengthAdjust="spacingAndGlyphs">Norwegen</text>
<text class="v" x="667.4" y="227.0" text-anchor="start" textLength="25.1" lengthAdjust="spacingAndGlyphs">50</text>
<text class="n" x="489.5" y="260.5" text-anchor="start" textLength="106.7" lengthAdjust="spacingAndGlyphs">Niederlande</text>
<text class="v" x="596.2" y="282.4" text-anchor="end" textLength="39.2" lengthAdjust="spacingAndGlyphs">150</text>
<text class="n" x="705.9" y="253.8" text-anchor="start" textLength="89.3" lengthAdjust="spacingAndGlyphs">Schweden</text>
<text class="v" x="704.2" y="277.2" text-anchor="start" textLength="36.8" lengthAdjust="spacingAndGlyphs">100</text>
<text class="n" x="750.4" y="325.0" text-anchor="start" textLength="74.9" lengthAdjust="spacingAndGlyphs">Finnland</text>
<text class="v" x="750.4" y="348.4" text-anchor="start" textLength="25.1" lengthAdjust="spacingAndGlyphs">30</text>
<text class="n" x="663.4" y="429.4" text-anchor="start" textLength="109.4" lengthAdjust="spacingAndGlyphs">Deutschland</text>
<text class="v" x="663.4" y="452.8" text-anchor="start" textLength="39.1" lengthAdjust="spacingAndGlyphs">400</text>
<text class="bb b" x="471.8" y="534.7" text-anchor="start" textLength="95.2" lengthAdjust="spacingAndGlyphs">Schweiz</text>
<text class="v" x="474.0" y="556.5" text-anchor="start" textLength="22.0" lengthAdjust="spacingAndGlyphs">10</text>
<text class="n" x="545.4" y="585.0" text-anchor="start" textLength="88.6" lengthAdjust="spacingAndGlyphs">Österreich</text>
<text class="v" x="545.4" y="606.8" text-anchor="start" textLength="25.6" lengthAdjust="spacingAndGlyphs">60</text>
<text class="n" x="840.3" y="440.4" text-anchor="start" textLength="62.9" lengthAdjust="spacingAndGlyphs">Kosovo</text>
<text class="v" x="903.2" y="462.0" text-anchor="end" textLength="38.5" lengthAdjust="spacingAndGlyphs">120</text>
<text class="n" x="793.8" y="560.8" text-anchor="start" textLength="68.2" lengthAdjust="spacingAndGlyphs">Bosnien</text>
<text class="v" x="862.0" y="581.7" text-anchor="end" textLength="26.7" lengthAdjust="spacingAndGlyphs">60</text>
<text class="n" x="879.8" y="380.9" text-anchor="start" textLength="77.2" lengthAdjust="spacingAndGlyphs">Albanien</text>
<text class="v" x="957.0" y="402.6" text-anchor="end" textLength="37.5" lengthAdjust="spacingAndGlyphs">140</text>
<text class="n" x="919.5" y="273.8" text-anchor="start" textLength="66.9" lengthAdjust="spacingAndGlyphs">Ukraine</text>
<text class="v" x="986.4" y="295.6" text-anchor="end" textLength="26.1" lengthAdjust="spacingAndGlyphs">50</text>
<text class="n" x="1002.0" y="273.8" text-anchor="start" textLength="77.7" lengthAdjust="spacingAndGlyphs">Russland</text>
<text class="v" x="1002.0" y="295.6" text-anchor="start" textLength="38.5" lengthAdjust="spacingAndGlyphs">800</text>
<text class="n" x="1220.0" y="273.8" text-anchor="start" textLength="97.5" lengthAdjust="spacingAndGlyphs">Kasachstan</text>
<text class="v" x="1220.0" y="295.6" text-anchor="start" textLength="39.0" lengthAdjust="spacingAndGlyphs">150</text>
<text class="n" x="1111.4" y="494.0" text-anchor="start" textLength="52.2" lengthAdjust="spacingAndGlyphs">Türkei</text>
<text class="v" x="1111.4" y="517.3" text-anchor="start" textLength="38.6" lengthAdjust="spacingAndGlyphs">400</text>
<text class="n" x="1223.5" y="558.8" text-anchor="start" textLength="48.8" lengthAdjust="spacingAndGlyphs">China</text>
<text class="v" x="1223.5" y="581.5" text-anchor="start" textLength="37.8" lengthAdjust="spacingAndGlyphs">100</text>
<text class="n" x="1119.8" y="619.6" text-anchor="start" textLength="71.2" lengthAdjust="spacingAndGlyphs">Pakistan</text>
<text class="v" x="1119.8" y="641.2" text-anchor="start" textLength="37.8" lengthAdjust="spacingAndGlyphs">330</text>
<text class="n" x="991.4" y="687.8" text-anchor="start" textLength="105.0" lengthAdjust="spacingAndGlyphs">Afghanistan</text>
<text class="v" x="1096.4" y="709.2" text-anchor="end" textLength="24.8" lengthAdjust="spacingAndGlyphs">25</text>
<text class="n" x="1269.0" y="727.3" text-anchor="start" textLength="86.6" lengthAdjust="spacingAndGlyphs">Australien</text>
<text class="v" x="1269.0" y="749.7" text-anchor="start" textLength="37.4" lengthAdjust="spacingAndGlyphs">250</text>
<text class="n" x="1119.8" y="820.3" text-anchor="start" textLength="96.2" lengthAdjust="spacingAndGlyphs">Indonesien</text>
<text class="v" x="1216.0" y="841.9" text-anchor="end" textLength="26.0" lengthAdjust="spacingAndGlyphs">60</text>
<text class="n" x="1114.0" y="924.6" text-anchor="start" textLength="123.2" lengthAdjust="spacingAndGlyphs">Saudi-Arabien</text>
<text class="v" x="1114.0" y="946.6" text-anchor="start" textLength="51.3" lengthAdjust="spacingAndGlyphs">2500</text>
<text class="n" x="1336.5" y="923.0" text-anchor="start" textLength="65.2" lengthAdjust="spacingAndGlyphs">Bahrain</text>
<text class="v" x="1401.7" y="946.4" text-anchor="end" textLength="25.1" lengthAdjust="spacingAndGlyphs">12</text>
<text class="n" x="1378.3" y="1014.4" text-anchor="start" textLength="45.2" lengthAdjust="spacingAndGlyphs">Katar</text>
<text class="v" x="1378.3" y="1036.9" text-anchor="start" textLength="24.4" lengthAdjust="spacingAndGlyphs">15</text>
<text class="n" x="1378.3" y="1112.0" text-anchor="start" textLength="45.7" lengthAdjust="spacingAndGlyphs">V.A.E.</text>
<text class="v" x="1378.3" y="1134.5" text-anchor="start" textLength="24.4" lengthAdjust="spacingAndGlyphs">15</text>
<text class="n" x="1318.0" y="1224.0" text-anchor="start" textLength="57.0" lengthAdjust="spacingAndGlyphs">Jemen</text>
<text class="v" x="1318.0" y="1247.6" text-anchor="start" textLength="38.0" lengthAdjust="spacingAndGlyphs">110</text>
<text class="n" x="960.0" y="829.5" text-anchor="start" textLength="85.5" lengthAdjust="spacingAndGlyphs">Jordanien</text>
<text class="v" x="960.0" y="853.0" text-anchor="start" textLength="50.0" lengthAdjust="spacingAndGlyphs">1500</text>
<text class="n" x="834.6" y="845.0" text-anchor="start" textLength="58.4" lengthAdjust="spacingAndGlyphs">Kuwait</text>
<text class="v" x="834.6" y="867.0" text-anchor="start" textLength="25.1" lengthAdjust="spacingAndGlyphs">70</text>
<text class="big" x="547.7" y="708.2" text-anchor="start" textLength="88.9" lengthAdjust="spacingAndGlyphs">Libanon</text>
<text class="v" x="547.7" y="734.0" text-anchor="start" textLength="39.3" lengthAdjust="spacingAndGlyphs">900</text>
<text class="big" x="441.6" y="658.0" text-anchor="start" textLength="65.4" lengthAdjust="spacingAndGlyphs">Italien</text>
<text class="v" x="469.0" y="683.6" text-anchor="start" textLength="24.7" lengthAdjust="spacingAndGlyphs">50</text>
<text class="n" x="529.5" y="777.0" text-anchor="end" textLength="56.1" lengthAdjust="spacingAndGlyphs">Israel /</text>
<text class="n" x="529.5" y="793.8" text-anchor="end" textLength="142.0" lengthAdjust="spacingAndGlyphs">Palästinensische</text>
<text class="n" x="529.5" y="810.0" text-anchor="end" textLength="165.0" lengthAdjust="spacingAndGlyphs">Autonomiegebiete</text>
<text class="v" x="529.5" y="832.0" text-anchor="end" textLength="37.0" lengthAdjust="spacingAndGlyphs">120</text>
<text class="n" x="280.3" y="863.7" text-anchor="start" textLength="76.9" lengthAdjust="spacingAndGlyphs">Tunesien</text>
<text class="v" x="280.3" y="885.7" text-anchor="start" textLength="51.7" lengthAdjust="spacingAndGlyphs">3000</text>
<text class="n" x="73.0" y="923.6" text-anchor="start" textLength="76.5" lengthAdjust="spacingAndGlyphs">Marokko</text>
<text class="v" x="73.0" y="946.4" text-anchor="start" textLength="51.7" lengthAdjust="spacingAndGlyphs">1500</text>
<text class="n" x="213.4" y="923.6" text-anchor="start" textLength="73.2" lengthAdjust="spacingAndGlyphs">Algerien</text>
<text class="v" x="213.4" y="946.4" text-anchor="start" textLength="37.4" lengthAdjust="spacingAndGlyphs">200</text>
<text class="n" x="544.3" y="1093.7" text-anchor="start" textLength="57.2" lengthAdjust="spacingAndGlyphs">Libyen</text>
<text class="v" x="544.3" y="1113.8" text-anchor="start" textLength="40.2" lengthAdjust="spacingAndGlyphs">600</text>
<text class="n" x="713.6" y="1093.7" text-anchor="start" textLength="74.2" lengthAdjust="spacingAndGlyphs">Ägypten</text>
<text class="v" x="713.6" y="1113.0" text-anchor="start" textLength="39.8" lengthAdjust="spacingAndGlyphs">360</text>
<text class="n" x="542.0" y="1228.5" text-anchor="start" textLength="54.5" lengthAdjust="spacingAndGlyphs">Sudan</text>
<text class="v" x="542.0" y="1251.0" text-anchor="start" textLength="38.5" lengthAdjust="spacingAndGlyphs">100</text>
<text class="n" x="895.9" y="1257.6" text-anchor="start" textLength="68.1" lengthAdjust="spacingAndGlyphs">Somalia</text>
<text class="v" x="895.9" y="1279.3" text-anchor="start" textLength="25.1" lengthAdjust="spacingAndGlyphs">70</text>
<text class="bb b" x="682.0" y="671.0" text-anchor="start" textLength="74.0" lengthAdjust="spacingAndGlyphs">Syrien</text>
<text class="bb b" x="793.0" y="770.0" text-anchor="start" textLength="45.0" lengthAdjust="spacingAndGlyphs">Irak</text>
<text class="f" x="48.5" y="1408.0" text-anchor="start" textLength="779.5" lengthAdjust="spacingAndGlyphs">Höchste Schätzung pro Land, inklusive bereits ins Herkunftsland zurückgekehrte Kämpfer</text>
<text class="q b" x="1177.7" y="1412.5" text-anchor="start" textLength="257.3" lengthAdjust="spacingAndGlyphs">Quelle: anp / afp / icsr</text>
<rect x="30" y="1423" width="1406" height="9.5" fill="#c9c9c9"/>
<path d="M632.6 236.4V291.6" stroke="#3a3a3a" stroke-width="0.85" fill="none"/><circle cx="632.6" cy="291.6" r="2.3" fill="#111"/>
<path d="M683.5 236.4V342.4" stroke="#3a3a3a" stroke-width="0.85" fill="none"/><circle cx="683.5" cy="342.4" r="2.3" fill="#111"/>
<path d="M975.3 306.6V410.3" stroke="#3a3a3a" stroke-width="0.85" fill="none"/><circle cx="975.3" cy="410.3" r="2.3" fill="#111"/>
<path d="M1014.4 306.0V360.5" stroke="#3a3a3a" stroke-width="0.85" fill="none"/><circle cx="1014.4" cy="360.5" r="2.3" fill="#111"/>
<path d="M1231.2 306.0V360.5" stroke="#3a3a3a" stroke-width="0.85" fill="none"/><circle cx="1231.2" cy="360.5" r="2.3" fill="#111"/>
<path d="M949.6 411.0V475.5" stroke="#3a3a3a" stroke-width="0.85" fill="none"/><circle cx="949.6" cy="475.5" r="2.3" fill="#111"/>
<path d="M311.7 892.8V963.0" stroke="#3a3a3a" stroke-width="0.85" fill="none"/><circle cx="311.7" cy="963.0" r="2.3" fill="#111"/>
<path d="M969.2 863.8V963.0" stroke="#3a3a3a" stroke-width="0.85" fill="none"/><circle cx="969.2" cy="963.0" r="2.3" fill="#111"/>
</svg></body></html>
